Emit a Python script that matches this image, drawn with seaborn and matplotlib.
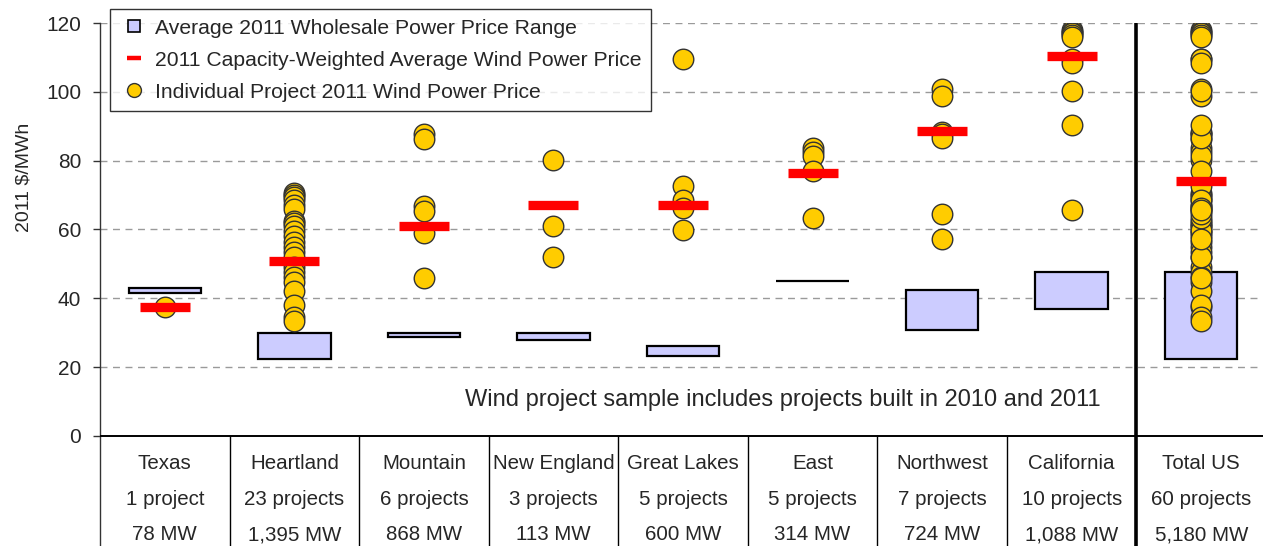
import numpy as np
import pandas as pd
import matplotlib
matplotlib.use("Agg")
import matplotlib.pyplot as plt
from matplotlib.lines import Line2D
import seaborn as sns

# ---- data -------------------------------------------------------------
regions = ["Texas", "Heartland", "Mountain", "New England", "Great Lakes",
           "East", "Northwest", "California", "Total US"]
project_counts = ["1 project", "23 projects", "6 projects", "3 projects",
                  "5 projects", "5 projects", "7 projects", "10 projects",
                  "60 projects"]
capacity_labels = ["78 MW", "1,395 MW", "868 MW", "113 MW", "600 MW",
                   "314 MW", "724 MW", "1,088 MW", "5,180 MW"]

wholesale_low = [41.5, 22.3, 28.7, 28.0, 23.3, 45.1, 30.9, 36.9, 22.3]
wholesale_high = [43.0, 29.9, 29.9, 29.9, 26.2, 45.1, 42.5, 47.6, 47.6]
weighted_avg = [37.6, 50.7, 61.0, 67.0, 67.0, 76.4, 88.6, 110.5, 74.1]

texas = [37.6]
heartland = [70.6, 70.0, 69.3, 68.5, 67.2, 66.0, 62.5, 61.8, 61.0, 59.5,
             58.0, 56.4, 55.0, 53.5, 52.0, 49.0, 47.5, 46.2, 44.8, 42.0,
             38.0, 34.5, 33.4]
mountain = [87.7, 86.4, 66.8, 65.5, 59.0, 45.9]
new_england = [80.1, 61.0, 52.1]
great_lakes = [109.5, 72.6, 68.7, 66.3, 59.7]
east = [83.8, 82.6, 81.4, 77.0, 63.4]
northwest = [100.8, 98.8, 88.3, 87.7, 86.7, 64.4, 57.3]
california = [117.9, 117.5, 117.0, 116.5, 115.8, 109.5, 108.5, 100.3,
              90.4, 65.6]

regional_prices = [texas, heartland, mountain, new_england, great_lakes,
                   east, northwest, california]

# ---- long table of project prices (Total US = every project) ----------
rows = []
for name, prices in zip(regions[:-1], regional_prices):
    for p in prices:
        rows.append((name, p))
        rows.append(("Total US", p))
projects = pd.DataFrame(rows, columns=["region", "price"])

# ---- style --------------------------------------------------------------
sns.set_theme(style="white")
plt.rcParams["font.family"] = ["Liberation Sans", "DejaVu Sans"]

BOX_FILL = "#CCCCFF"
DOT_FILL = "#FFCC00"
DOT_EDGE = "#333333"
AVG_RED = "#FF0000"
FS = 14.8

fig = plt.figure(figsize=(12.63, 5.46), dpi=100)
ax = fig.add_axes([100 / 1263, 0.0, 1163 / 1263, 523 / 546])

x = np.arange(len(regions))

# wholesale price range boxes
ax.bar(x, np.array(wholesale_high) - np.array(wholesale_low),
       bottom=wholesale_low, width=0.56, color=BOX_FILL,
       edgecolor="black", linewidth=1.6, zorder=2)

# individual projects
sns.stripplot(data=projects, x="region", y="price", order=regions,
              jitter=False, color=DOT_FILL, edgecolor=DOT_EDGE,
              linewidth=1.0, size=14.8, ax=ax, zorder=3)

# capacity-weighted averages
ax.hlines(weighted_avg, x - 0.193, x + 0.193, colors=AVG_RED,
          linewidth=6.7, zorder=4, capstyle="butt")

# ---- axes ---------------------------------------------------------------
ax.set_xlim(-0.5, 8.477)
ax.set_ylim(-32, 120)
ax.set_yticks(np.arange(0, 121, 20))
ax.tick_params(axis="y", labelsize=15, length=5, width=1, color="#333333",
               direction="out", left=True, pad=8.5)
ax.set_xticks([])
ax.set_xlabel("")
ax.set_ylabel("2011 $/MWh", fontsize=14)
ax.yaxis.set_label_coords(-0.058, 0.705)

for side in ["top", "right", "bottom"]:
    ax.spines[side].set_visible(False)
ax.spines["left"].set_color("#333333")
ax.spines["left"].set_linewidth(1.0)

# dashed gridlines
for gy in range(20, 121, 20):
    ax.axhline(gy, color="#9A9A9A", linewidth=1.0, linestyle=(0, (5, 4)),
               zorder=0)

# table under the chart
ax.axhline(0, color="black", linewidth=1.4, zorder=5)
for bx in x[:-2] + 0.5:
    ax.plot([bx, bx], [-32, 0], color="black", linewidth=1.0, zorder=5)
ax.plot([7.5, 7.5], [-32, 120], color="black", linewidth=2.6, zorder=5,
        solid_capstyle="butt")

for xi, name, npj, cap in zip(x, regions, project_counts, capacity_labels):
    ax.text(xi, -7.9, name, ha="center", va="center", fontsize=FS)
    ax.text(xi, -18.4, npj, ha="center", va="center", fontsize=FS)
    ax.text(xi, -28.8, cap, ha="center", va="center", fontsize=FS)

ax.text(4.77, 10.5,
        "Wind project sample includes projects built in 2010 and 2011",
        ha="center", va="center", fontsize=17.0)

# legend
handles = [
    Line2D([], [], marker="s", linestyle="none", markersize=8,
           markerfacecolor=BOX_FILL, markeredgecolor="black",
           markeredgewidth=1.2),
    Line2D([], [], marker="_", linestyle="none", markersize=10.5,
           markeredgecolor=AVG_RED, markeredgewidth=3.2),
    Line2D([], [], marker="o", linestyle="none", markersize=10,
           markerfacecolor=DOT_FILL, markeredgecolor=DOT_EDGE,
           markeredgewidth=1.0),
]
labels = ["Average 2011 Wholesale Power Price Range",
          "2011 Capacity-Weighted Average Wind Power Price",
          "Individual Project 2011 Wind Power Price"]
leg = ax.legend(handles, labels, loc="upper left",
                bbox_to_anchor=(110 / 1263, 1 - 9 / 546),
                bbox_transform=fig.transFigure, fontsize=15.2,
                frameon=True, fancybox=False, shadow=False,
                handlelength=1.4, handletextpad=0.3, labelspacing=0.62,
                borderpad=0.45, borderaxespad=0)
leg.get_frame().set_edgecolor("black")
leg.get_frame().set_linewidth(1.0)
leg.set_zorder(6)

fig.savefig("out.png", dpi=100)
